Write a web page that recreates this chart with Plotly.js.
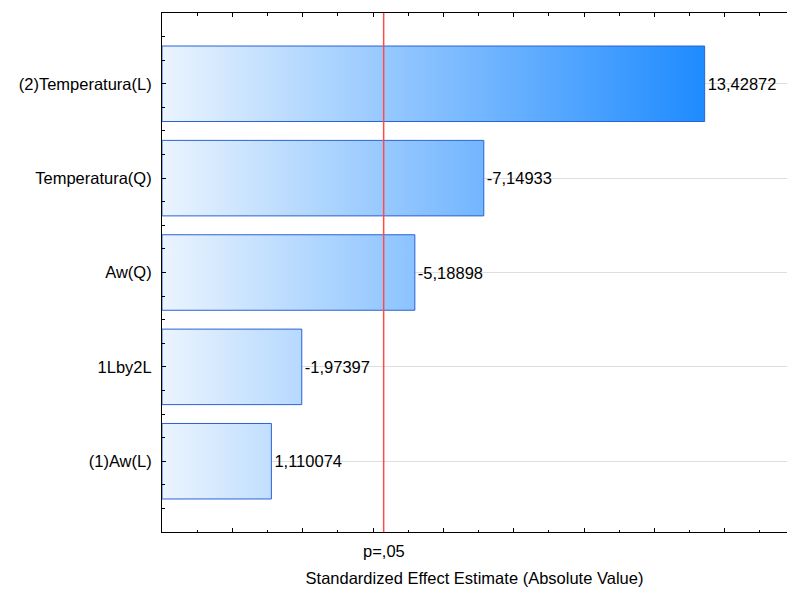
<!DOCTYPE html>
<html>
<head>
<meta charset="utf-8">
<script src="https://cdn.plot.ly/plotly-3.0.1.min.js"></script>
<style>
  html, body { margin: 0; padding: 0; background: #fff; }
  #chart { width: 787px; height: 590px; }
</style>
</head>
<body>
<div id="chart"></div>
<script>
// Pareto chart of standardized effects (factor order: largest |t| first)
const factors = ['(2)Temperatura(L)', 'Temperatura(Q)', 'Aw(Q)', '1Lby2L', '(1)Aw(L)'];
const effects = [13.42872, -7.14933, -5.18898, -1.97397, 1.110074];
// critical t value for p = .05 (two-sided, 2 df)
const criticalT = 4.302653;
const criticalLabel = 'p=,05';
const xTitle = 'Standardized Effect Estimate (Absolute Value)';

const X_MIN = -2;
const X_MAX = 15.77;
const FONT = 'Liberation Sans, Arial, sans-serif';

const positions = factors.map((_, i) => i);
const magnitudes = effects.map(v => Math.abs(v));
const valueLabels = effects.map(v => String(v).replace('.', ','));

const bars = {
  type: 'bar',
  orientation: 'h',
  y: positions,
  base: X_MIN,
  x: magnitudes.map(m => m - X_MIN),
  width: 0.8,
  marker: { color: '#8cc2ff', line: { color: '#2a62d4', width: 1 } },
  text: valueLabels,
  textposition: 'outside',
  constraintext: 'none',
  cliponaxis: false,
  textfont: { family: FONT, size: 16.5, color: '#000' },
  hoverinfo: 'skip'
};

const layout = {
  width: 787,
  height: 590,
  margin: { l: 162, r: 0, t: 13, b: 58 },
  paper_bgcolor: '#fff',
  plot_bgcolor: '#fff',
  showlegend: false,
  font: { family: FONT, size: 16.5, color: '#000' },
  bargap: 0.2,
  xaxis: {
    range: [X_MIN, X_MAX],
    showline: true, linecolor: '#000', linewidth: 1,
    mirror: 'ticks',
    ticks: 'inside', tick0: 0, dtick: 2, ticklen: 4, tickcolor: '#000', tickwidth: 1,
    minor: { ticks: 'inside', tickmode: 'linear', tick0: 0, dtick: 1, ticklen: 2.5, tickcolor: '#000', showgrid: false },
    showticklabels: false,
    showgrid: false, zeroline: false,
    automargin: false,
    title: { text: xTitle, font: { family: FONT, size: 16.5, color: '#000' }, standoff: 40 }
  },
  yaxis: {
    range: [4.75, -0.75],
    tickmode: 'array', tickvals: positions, ticktext: factors,
    showline: true, linecolor: '#000', linewidth: 1,
    ticks: 'inside', ticklen: 4, tickcolor: '#000', tickwidth: 1,
    minor: { ticks: 'inside', tickmode: 'linear', tick0: 0, dtick: 0.25, ticklen: 2.5, tickcolor: '#000', showgrid: false },
    ticklabelstandoff: 6,
    tickfont: { family: FONT, size: 16.5, color: '#000' },
    showgrid: true, gridcolor: '#dedede', gridwidth: 1,
    zeroline: false,
    automargin: false
  },
  shapes: [{
    type: 'line', xref: 'x', yref: 'paper',
    x0: criticalT, x1: criticalT, y0: 0, y1: 1,
    line: { color: '#ff4a4a', width: 1.5 },
    layer: 'above'
  }],
  annotations: [{
    text: criticalLabel, xref: 'x', yref: 'paper',
    x: criticalT, y: 0, yshift: -19, yanchor: 'middle', xanchor: 'center',
    showarrow: false, font: { family: FONT, size: 16.5, color: '#000' }
  }]
};

const gd = document.getElementById('chart');
Plotly.newPlot(gd, [bars], layout, { staticPlot: true, displayModeBar: false }).then(() => {
  // horizontal light-to-blue fade across the value axis, shared by all bars
  const xa = gd._fullLayout.xaxis;
  const svgNS = 'http://www.w3.org/2000/svg';
  const defs = gd.querySelector('svg.main-svg defs') ||
    gd.querySelector('svg.main-svg').insertBefore(document.createElementNS(svgNS, 'defs'),
      gd.querySelector('svg.main-svg').firstChild);
  const grad = document.createElementNS(svgNS, 'linearGradient');
  grad.setAttribute('id', 'barfade');
  grad.setAttribute('gradientUnits', 'userSpaceOnUse');
  grad.setAttribute('x1', xa.l2p(X_MIN));
  grad.setAttribute('x2', xa.l2p(Math.max(...magnitudes)));
  grad.setAttribute('y1', 0);
  grad.setAttribute('y2', 0);
  [['0', 'rgb(235,244,254)'], ['1', 'rgb(30,139,255)']].forEach(([off, col]) => {
    const s = document.createElementNS(svgNS, 'stop');
    s.setAttribute('offset', off);
    s.setAttribute('stop-color', col);
    grad.appendChild(s);
  });
  defs.appendChild(grad);
  gd.querySelectorAll('.barlayer .point path').forEach(p => { p.style.fill = 'url(#barfade)'; });
});
</script>
</body>
</html>
